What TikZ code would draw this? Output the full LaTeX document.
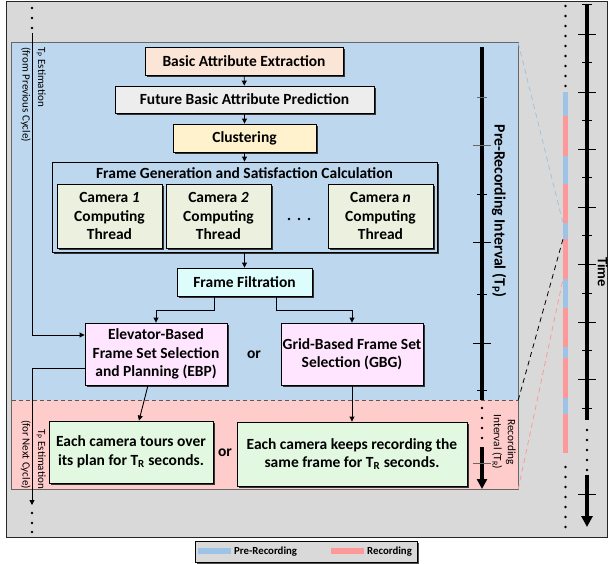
\documentclass[tikz,border=0pt]{standalone}
\usepackage{fontspec}
\setmainfont{Carlito}
\usetikzlibrary{arrows.meta,shadows}
\definecolor{bgGray}{HTML}{D9D9D9}
\definecolor{panelBlue}{HTML}{BDD7EE}
\definecolor{panelPink}{HTML}{FFCCCC}
\definecolor{cPeach}{HTML}{FBE5D6}
\definecolor{cLight}{HTML}{EDEDED}
\definecolor{cYellow}{HTML}{FFF2CC}
\definecolor{cCam}{HTML}{EBF1DE}
\definecolor{cCyan}{HTML}{DDFCFC}
\definecolor{cMag}{HTML}{FFE5FF}
\definecolor{cGreen}{HTML}{E2F8E1}
\definecolor{barBlue}{HTML}{9DC3E6}
\definecolor{barPink}{HTML}{FF9999}
\newcommand{\myBox}{\bfseries\fontsize{15.5}{18.5}\selectfont}
\newcommand{\mySmall}{\fontsize{11}{15.5}\selectfont}
\newcommand{\myLeg}{\bfseries\fontsize{10.8}{12}\selectfont}
\begin{document}
\begin{tikzpicture}[x=1pt,y=-1pt,
  box/.style={draw=black, line width=0.9pt, align=center, font=\myBox, inner sep=1pt,
    drop shadow={shadow xshift=2pt, shadow yshift=-2pt, fill=black!80, opacity=1}},
  arr/.style={line width=0.9pt, -{Triangle[length=5pt,width=5pt]}},
  bigarr/.style={line width=3.5pt, -{Triangle[length=10pt,width=10pt]}},
  dotc/.style={circle, fill=black, inner sep=0pt, minimum size=2.6pt},
  edge/.style={draw=black!60, line width=0.7pt},
  rtext/.style={rotate=-90, inner sep=0pt},
]
\useasboundingbox (0,0) rectangle (608,563);
% background
\draw[line width=0.8pt, draw=black!85, fill=bgGray] (6,1) rectangle (607,537);
% panels
\node[fill=panelBlue, draw=none, minimum width=506pt, minimum height=357pt, inner sep=0pt] (bluep) at (265,221.5) {};
\node[fill=panelPink, draw=none, minimum width=506pt, minimum height=89pt, inner sep=0pt] (pinkp) at (265,444.5) {};
\draw[edge] (bluep.south west) -- (bluep.north west) -- (bluep.north east) -- (bluep.south east);
\draw[edge] (pinkp.north west) -- (pinkp.south west) -- (pinkp.south east) -- (pinkp.north east);
\draw[draw=black!65, line width=0.7pt, dash pattern=on 4pt off 3pt] (bluep.south west) -- (bluep.south east);

% boxes
\node[box, fill=cPeach, minimum width=198pt, minimum height=28pt] (bae) at (244,61) {Basic Attribute Extraction};
\node[box, fill=cLight, minimum width=259pt, minimum height=27pt] (fbap) at (244.5,99.5) {Future Basic Attribute Prediction};
\node[box, fill=cYellow, minimum width=143pt, minimum height=28pt] (clu) at (244.5,138) {Clustering};
\node[box, fill=panelBlue, minimum width=385pt, minimum height=90pt] (fg) at (244.5,207) {};
\node[font=\myBox, inner sep=0pt] (fgt) at (244.5,173) {Frame Generation and Satisfaction Calculation};
\node[box, fill=cCam, minimum width=105pt, minimum height=64pt] (c1) at (109.5,216) {Camera \textit{1}\\Computing\\Thread};
\node[box, fill=cCam, minimum width=105pt, minimum height=64pt] (c2) at (218.5,216) {Camera \textit{2}\\Computing\\Thread};
\node[box, fill=cCam, minimum width=105pt, minimum height=64pt] (cn) at (380.5,216) {Camera \textit{n}\\Computing\\Thread};
\node[dotc] (d1) at (289,219) {};
\node[dotc] (d2) at (299,219) {};
\node[dotc] (d3) at (309,219) {};
\node[box, fill=cCyan, minimum width=135pt, minimum height=28pt] (ff) at (244.5,282) {Frame Filtration};
\node[box, fill=cMag, minimum width=142pt, minimum height=62pt] (ebp) at (156,354) {Elevator-Based\\Frame Set Selection\\and Planning (EBP)};
\node[box, fill=cMag, minimum width=142pt, minimum height=62pt] (gbg) at (352,354) {Grid-Based Frame Set\\Selection (GBG)};
\node[font=\myBox] (or1) at (254,355) {or};
\node[box, fill=cGreen, minimum width=164pt, minimum height=62pt] (tour) at (131,452) {Each camera tours over\\its plan for T\textsubscript{R} seconds.};
\node[box, fill=cGreen, minimum width=230pt, minimum height=64pt] (keep) at (352,454) {Each camera keeps recording the\\same frame for T\textsubscript{R} seconds.};
\node[font=\myBox] (or2) at (225,453) {or};

% arrows
\draw[arr] (bae) -- (fbap);
\draw[arr] (fbap) -- (clu);
\draw[arr] (clu) -- (fg);
\draw[arr] (fg) -- (ff);
\draw[arr] ([xshift=-30.5pt]ff.south) -- ++(0,14) -| (ebp.north);
\draw[arr] ([xshift=31.5pt]ff.south) -- ++(0,14) -| (gbg.north);
\draw[arr] (ebp) -- (tour);
\draw[arr] (gbg) -- (keep);

% left estimation lines
\coordinate (ltop) at (32,33);
\coordinate (lbot) at (32,505);
\node[dotc] (ld1) at (32,8) {};
\node[dotc] (ld2) at (32,18) {};
\node[dotc] (ld3) at (32,28) {};
\draw[arr] (ltop) |- ([yshift=19pt]ebp.west);
\draw[arr] ([yshift=-14pt]ebp.west) -| (lbot);
\node[dotc] (ld4) at (32,513) {};
\node[dotc] (ld5) at (32,523) {};
\node[dotc] (ld6) at (32,532) {};
\node[rtext, font=\mySmall, align=left, anchor=north west] (tpe1) at (46,47) {T\textsubscript{P} Estimation\\(from Previous Cycle)};
\node[rtext, font=\mySmall, align=right, anchor=north east] (tpe2) at (46,489) {T\textsubscript{P} Estimation\\(for Next Cycle)};

% inner timeline
\draw[line width=3.5pt] (482,47) -- (482,400);
\foreach \y/\w/\c in {97/5/black!60,145/9/black!60,194/5/black,242/9/black,294/5/black,343/9/black,390/5/black}
  \draw[line width=0.9pt, draw=\c] (482-\w,\y) -- (482+\w,\y);
\foreach \y in {408,418,428,438} \fill (482,\y) circle (1.3pt);
\draw[bigarr] (482,447) -- (482,489);
\draw[line width=0.9pt, draw=black!60] (473,463) -- (491,463);
\node[rtext, font=\bfseries\fontsize{15.7}{17}\selectfont] (prl) at (499,211) {Pre-Recording Interval (T\textsubscript{P})};
\node[rtext, font=\fontsize{11.3}{14}\selectfont, align=center] (rl) at (504,442) {Recording\\Interval (T\textsubscript{R})};

% right bar
\foreach \a/\b/\c in {92/116/barBlue,116/156/barPink,156/184/barBlue,184/223/barPink,223/239/barBlue,239/279/barPink,279/308/barBlue,308/347/barPink,347/358/barBlue,358/398/barPink,398/414/barBlue,414/453/barPink}
  \fill[\c] (563,\a) rectangle (568,\b);
\foreach \y in {6,16,...,86} \fill (565.5,\y) circle (1.3pt);
\foreach \y in {467,477,...,527} \fill (565.5,\y) circle (1.3pt);
\coordinate (bb1) at (563,223);
\coordinate (bb2) at (563,239);
\coordinate (bb3) at (563,279);
\draw[barBlue, line width=0.8pt, dash pattern=on 5pt off 4pt] (bluep.north east) -- (bb1);
\draw[black, line width=0.8pt, dash pattern=on 5pt off 4pt] (bluep.south east) -- (bb2);
\draw[barPink, line width=0.8pt, dash pattern=on 5pt off 4pt] (pinkp.south east) -- (bb3);

% time axis
\draw[line width=4pt] (587,4) -- (587,420);
\foreach \y in {34,92,149,207,264,322,379} \draw[line width=1pt] (578,\y) -- (596,\y);
\foreach \y in {4,62,120,177,235,293,350,408} \draw[line width=1pt] (582,\y) -- (592,\y);
\foreach \y in {430,440,...,470} \fill (587,\y) circle (1.3pt);
\draw[line width=4pt, -{Triangle[length=11pt,width=11pt]}] (587,475) -- (587,527);
\draw[line width=1pt] (578,494) -- (596,494);
\node[rtext, font=\bfseries\fontsize{14.5}{16}\selectfont] (time) at (603,272) {Time};

% legend
\node[draw=black, line width=0.8pt, fill=bgGray, minimum width=222pt, minimum height=21pt, inner sep=0pt,
  drop shadow={shadow xshift=1.5pt, shadow yshift=-1.5pt, fill=black!70, opacity=1}] (leg) at (306,551.5) {};
\fill[barBlue] (198,548) rectangle (231,554);
\node[font=\myLeg, anchor=west, inner sep=0pt] (legb) at (234,551.5) {Pre-Recording};
\fill[barPink] (331,548) rectangle (364,554);
\node[font=\myLeg, anchor=west, inner sep=0pt] (legp) at (367,551.5) {Recording};
\end{tikzpicture}
\end{document}
